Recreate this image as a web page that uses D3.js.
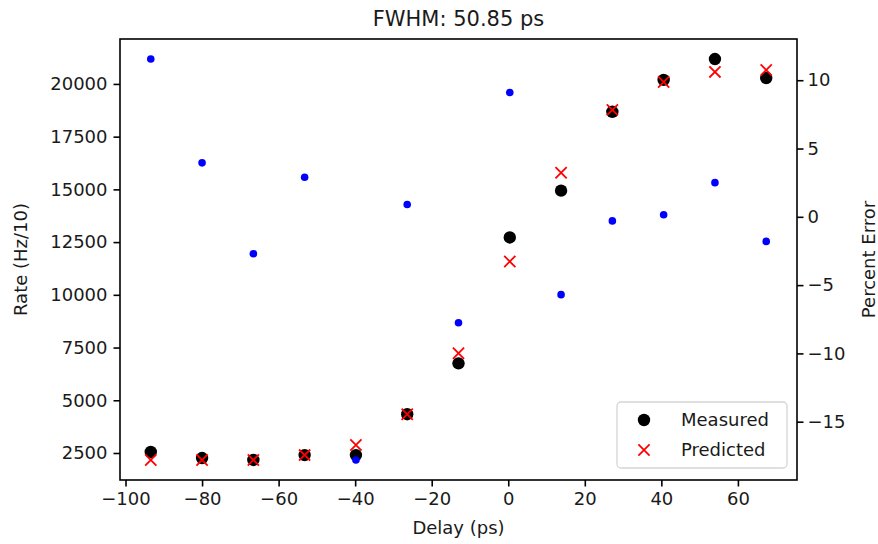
<!DOCTYPE html>
<html>
<head>
<meta charset="utf-8">
<script src="https://cdn.jsdelivr.net/npm/d3@7"></script>
<style>
  body { margin: 0; background: #fff; }
  svg text { font-family: "DejaVu Sans", sans-serif; fill: #1a1a1a; }
</style>
</head>
<body>
<div class="chart"></div>
<script>
// values
const delays = [-93.4, -80.0, -66.6, -53.2, -39.8, -26.4, -13.0, 0.4, 13.8, 27.2, 40.6, 54.0, 67.4];
const measured = [2550, 2260, 2170, 2400, 2400, 4340, 6750, 12720, 14940, 18680, 20190, 21180, 20280];
const predicted = [2170, 2170, 2170, 2400, 2880, 4340, 7230, 11580, 15790, 18770, 20090, 20570, 20660];
const percentError = [11.55, 3.95, -2.7, 2.9, -17.8, 0.9, -7.75, 9.1, -5.7, -0.3, 0.15, 2.5, -1.8];

const xTicks = [-100, -80, -60, -40, -20, 0, 20, 40, 60];
const rateTicks = [2500, 5000, 7500, 10000, 12500, 15000, 17500, 20000];
const errTicks = [-15, -10, -5, 0, 5, 10];
const legendLabels = ["Measured", "Predicted"];
const title = "FWHM: 50.85 ps";

const W = 878, H = 544;
const plot = {left: 120, right: 797, top: 39, bottom: 480};
const fs = 18;

// matplotlib style 5% padding
function pad(ext) {
  const m = (ext[1] - ext[0]) * 0.05;
  return [ext[0] - m, ext[1] + m];
}

const svg = d3.select(".chart").append("svg")
  .attr("width", W)
  .attr("height", H);

const xScale = d3.scaleLinear()
  .domain(pad(d3.extent(delays)))
  .range([plot.left, plot.right]);

const yScale = d3.scaleLinear()
  .domain(pad(d3.extent(measured.concat(predicted))))
  .range([plot.bottom, plot.top]);

const yErr = d3.scaleLinear()
  .domain(pad(d3.extent(percentError)))
  .range([plot.bottom, plot.top]);

const xAxis = d3.axisBottom(xScale).tickValues(xTicks).tickSize(6.5).tickPadding(6).tickFormat(d3.format("d"));
const yAxis = d3.axisLeft(yScale).tickValues(rateTicks).tickSize(6.5).tickPadding(6).tickFormat(d3.format("d"));
const yAxisR = d3.axisRight(yErr).tickValues(errTicks).tickSize(6.5).tickPadding(4).tickFormat(d3.format("d"));

function styleAxis(g) {
  g.select(".domain").remove();
  g.selectAll(".tick line").attr("stroke", "#000").attr("stroke-width", 1.6);
  g.selectAll(".tick text").attr("font-size", fs).attr("fill", "#1a1a1a");
}

svg.append("g")
  .attr("transform", "translate(0," + plot.bottom + ")")
  .call(xAxis).call(styleAxis);

svg.append("g")
  .attr("transform", "translate(" + plot.left + ",0)")
  .call(yAxis).call(styleAxis);

svg.append("g")
  .attr("transform", "translate(" + plot.right + ",0)")
  .call(yAxisR).call(styleAxis);

const pts = delays.map((d, i) => ({x: d, m: measured[i], p: predicted[i], e: percentError[i]}));

// measured
svg.append("g").selectAll("circle")
  .data(pts).enter().append("circle")
  .attr("cx", d => xScale(d.x))
  .attr("cy", d => yScale(d.m))
  .attr("r", 6.2)
  .attr("fill", "#000");

// predicted
const xMark = 5.6;
svg.append("g").selectAll("path")
  .data(pts).enter().append("path")
  .attr("d", d => {
    const cx = xScale(d.x), cy = yScale(d.p);
    return "M" + (cx - xMark) + "," + (cy - xMark) + "L" + (cx + xMark) + "," + (cy + xMark) +
           "M" + (cx - xMark) + "," + (cy + xMark) + "L" + (cx + xMark) + "," + (cy - xMark);
  })
  .attr("stroke", "#ff0000")
  .attr("stroke-width", 1.8)
  .attr("fill", "none");

// legend
const lg = svg.append("g").attr("transform", "translate(617,402)");
lg.append("rect")
  .attr("width", 170).attr("height", 66).attr("rx", 4)
  .attr("fill", "#fff").attr("fill-opacity", 0.8)
  .attr("stroke", "#d5d5d5").attr("stroke-width", 1.3);
lg.append("circle").attr("cx", 27).attr("cy", 18).attr("r", 6.2).attr("fill", "#000");
lg.append("path")
  .attr("d", "M" + (27 - xMark) + "," + (48 - xMark) + "L" + (27 + xMark) + "," + (48 + xMark) +
             "M" + (27 - xMark) + "," + (48 + xMark) + "L" + (27 + xMark) + "," + (48 - xMark))
  .attr("stroke", "#ff0000").attr("stroke-width", 1.8);
lg.selectAll("text.lab")
  .data(legendLabels).enter().append("text")
  .attr("class", "lab")
  .attr("x", 64)
  .attr("y", (d, i) => 18 + i * 30)
  .attr("dy", "0.36em")
  .attr("font-size", fs)
  .text(d => d);

// percent error (twin axis, on top)
svg.append("g").selectAll("circle")
  .data(pts).enter().append("circle")
  .attr("cx", d => xScale(d.x))
  .attr("cy", d => yErr(d.e))
  .attr("r", 3.8)
  .attr("fill", "#0000ff");

// frame
svg.append("rect")
  .attr("x", plot.left).attr("y", plot.top)
  .attr("width", plot.right - plot.left).attr("height", plot.bottom - plot.top)
  .attr("fill", "none").attr("stroke", "#000").attr("stroke-width", 1.6);

// labels
svg.append("text")
  .attr("x", (plot.left + plot.right) / 2).attr("y", 26)
  .attr("text-anchor", "middle").attr("font-size", 21)
  .text(title);

svg.append("text")
  .attr("x", (plot.left + plot.right) / 2).attr("y", 534)
  .attr("text-anchor", "middle").attr("font-size", fs)
  .text("Delay (ps)");

svg.append("text")
  .attr("transform", "translate(27," + (plot.top + plot.bottom) / 2 + ") rotate(-90)")
  .attr("text-anchor", "middle").attr("font-size", fs)
  .text("Rate (Hz/10)");

svg.append("text")
  .attr("transform", "translate(875," + (plot.top + plot.bottom) / 2 + ") rotate(-90)")
  .attr("text-anchor", "middle").attr("font-size", fs)
  .text("Percent Error");
</script>
</body>
</html>
